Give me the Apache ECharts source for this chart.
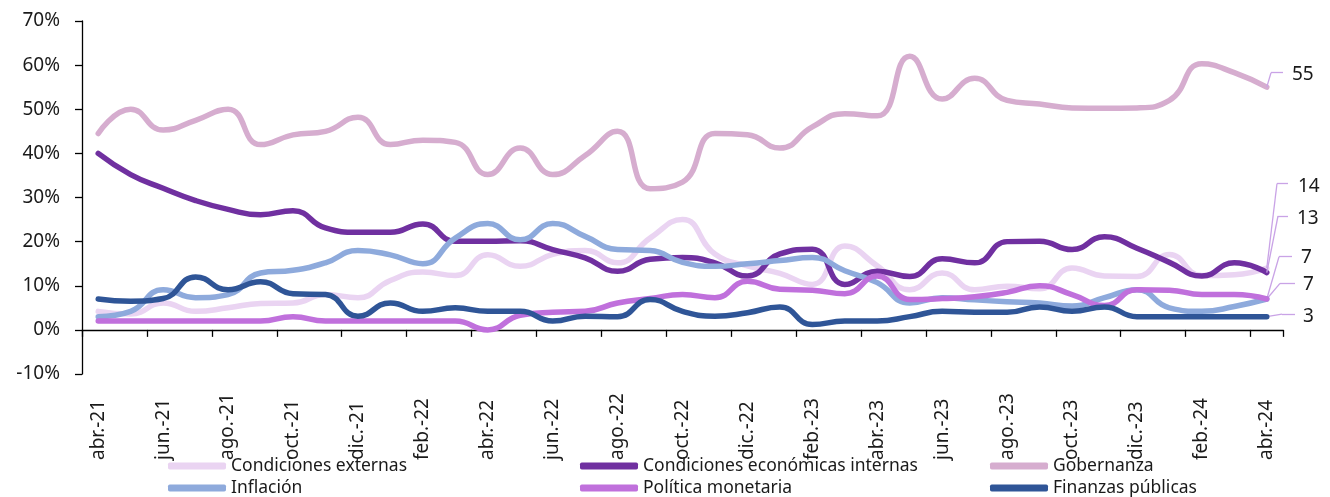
<!DOCTYPE html>
<html>
<head>
<meta charset="utf-8">
<script src="https://cdn.jsdelivr.net/npm/echarts@6/dist/echarts.min.js"></script>
<style>
html,body{margin:0;padding:0;background:#fff;}
#chart{width:1330px;height:497px;}
</style>
</head>
<body>
<div id="chart"></div>
<script>
// ---- data ----
const months = ['abr.-21','may.-21','jun.-21','jul.-21','ago.-21','sep.-21','oct.-21','nov.-21','dic.-21',
  'ene.-22','feb.-22','mar.-22','abr.-22','may.-22','jun.-22','jul.-22','ago.-22','sep.-22','oct.-22','nov.-22','dic.-22',
  'ene.-23','feb.-23','mar.-23','abr.-23','may.-23','jun.-23','jul.-23','ago.-23','sep.-23','oct.-23','nov.-23','dic.-23',
  'ene.-24','feb.-24','mar.-24','abr.-24'];

const seriesNames = ['Condiciones externas','Condiciones económicas internas','Gobernanza','Inflación','Política monetaria','Finanzas públicas'];

const condExternas = [4.2, 3.6, 6.1, 4.2, 5, 6, 6.1, 8, 7.3, 11.2, 13.1, 12.3, 17, 14.4, 17.1, 18, 15.2, 20.8, 25, 17.2, 14.5, 12.8, 10.3, 19, 14.5, 9.1, 12.9, 9.1, 9.9, 9.3, 14, 12.2, 12.1, 17.1, 12.3, 12.5, 14];
const condInternas = [40, 35.2, 32.1, 29.3, 27.3, 26.1, 27, 23.1, 22.1, 22.1, 24, 20.1, 20.1, 20.2, 18.2, 16.3, 13.3, 16, 16.4, 15.2, 12.2, 17.2, 18.3, 10.3, 13.3, 12.1, 16.1, 15.2, 20, 20.1, 18.2, 21.1, 18.5, 15.3, 12.2, 15.2, 13];
const gobernanza = [44.5, 50, 45.3, 47.5, 50, 42, 44.2, 45, 48.2, 42, 43, 42.5, 35.2, 41.2, 35.2, 39.5, 45, 32, 33.5, 44.5, 44.2, 41.2, 46, 49, 48.5, 62, 52.3, 57, 52, 51.2, 50.3, 50.2, 50.3, 52, 60.3, 58.3, 55];
const inflacion = [3, 4.2, 9.1, 7.3, 8, 12.9, 13.5, 15.2, 18, 17, 15, 20.8, 24.1, 20.4, 24.1, 21.2, 18.2, 18, 15.3, 14.4, 15, 15.7, 16.4, 13.4, 10.7, 6.1, 7.3, 6.8, 6.4, 6.1, 5.4, 7.3, 9.1, 5, 4.2, 5.3, 7];
const politica = [2, 2, 2, 2, 2, 2, 3, 2, 2, 2, 2, 2, 0, 3.3, 4, 4.2, 6.1, 7.1, 8, 7.3, 11, 9.2, 9, 8.2, 12.2, 6.9, 7.1, 7.5, 8.5, 10, 8, 5.5, 9.1, 9, 8, 8, 7];
const finanzas = [7, 6.5, 7.1, 12, 9.1, 10.9, 8.2, 8, 3.1, 6.1, 4.2, 5, 4.2, 4.2, 2, 3.1, 3, 6.9, 4.2, 3.1, 3.9, 5.2, 1.2, 2, 2, 3, 4.2, 4, 4, 5.2, 4.2, 5.2, 3, 3, 3, 3, 3];

const seriesValues = [condExternas, condInternas, gobernanza, inflacion, politica, finanzas];

// ---- styles ----
const FONT = '"Noto Sans", "Open Sans", sans-serif';
const colors = ['#ead4f2', '#7030a0', '#d6adcf', '#8eaadc', '#c070dc', '#2f5597'];
const leaderColor = '#c9a3e6';
// end-label placement (text position and leader elbow), in pixels
const endLabelLayout = [
  {textX: 1298, textY: 186.5, elbowX: 1277, lineY: 183.5, endX: 1288},
  {textX: 1297, textY: 218.5, elbowX: 1278, lineY: 216,   endX: 1288},
  {textX: 1292, textY: 75,    elbowX: 1271, lineY: 72.7,  endX: 1283},
  {textX: 1301, textY: 257.5, elbowX: 1279, lineY: 256.7, endX: 1292},
  {textX: 1303, textY: 285,   elbowX: 1280, lineY: 283.3, endX: 1295},
  {textX: 1303, textY: 316.7, elbowX: 1282, lineY: 314.2, endX: 1295}
];

const chart = echarts.init(document.getElementById('chart'), null, {renderer: 'canvas'});

const series = seriesNames.map((name, si) => {
  const vals = seriesValues[si];
  const last = vals.length - 1;
  const L = endLabelLayout[si];
  return {
    type: 'line',
    name: name,
    data: vals.map((v, i) => i === last ? {value: v, label: {show: true}} : v),
    smooth: 0.5,
    clip: false,
    showSymbol: true,
    showAllSymbol: true,
    symbol: 'circle',
    symbolSize: 0,
    color: colors[si],
    lineStyle: {width: 5.5, color: colors[si], cap: 'round'},
    itemStyle: {color: colors[si]},
    label: {
      show: false,
      formatter: p => String(Math.round(p.value)),
      fontSize: 19,
      fontFamily: FONT,
      color: '#1a1a1a'
    },
    labelLayout: function (p) {
      const LL = endLabelLayout[p.seriesIndex];
      return {x: LL.textX, y: LL.textY, align: 'left', verticalAlign: 'middle'};
    },
    markLine: {
      silent: true,
      symbol: 'none',
      animation: false,
      label: {show: false},
      lineStyle: {color: leaderColor, width: 1.3, type: 'solid'},
      emphasis: {disabled: true},
      data: [
        [{coord: [last, vals[last]]}, {x: L.elbowX, y: L.lineY}],
        [{x: L.elbowX, y: L.lineY}, {x: L.endX, y: L.lineY}]
      ]
    },
    emphasis: {disabled: true},
    silent: true,
    z: 2 + si
  };
});

const legendBase = {
  orient: 'vertical',
  top: 457,
  itemWidth: 58,
  itemHeight: 7,
  itemGap: 4,
  icon: 'roundRect',
  selectedMode: false,
  padding: 0,
  textStyle: {fontSize: 17.5, fontFamily: FONT, color: '#1a1a1a'}
};

const option = {
  animation: false,
  backgroundColor: '#ffffff',
  textStyle: {fontFamily: FONT},
  grid: {left: 82, right: 47, top: 21, bottom: 123, containLabel: false},
  legend: [
    Object.assign({}, legendBase, {left: 168, data: [seriesNames[0], seriesNames[3]]}),
    Object.assign({}, legendBase, {left: 580, data: [seriesNames[1], seriesNames[4]]}),
    Object.assign({}, legendBase, {left: 990, data: [seriesNames[2], seriesNames[5]]})
  ],
  xAxis: {
    type: 'category',
    data: months,
    boundaryGap: true,
    axisLine: {show: true, onZero: true, lineStyle: {color: '#000', width: 1.3}},
    axisTick: {show: true, interval: 1, alignWithLabel: false, length: 7, inside: false, lineStyle: {color: '#000', width: 1.3}},
    axisLabel: {
      interval: 1, rotate: 90, align: 'left', verticalAlign: 'middle', margin: 86,
      fontSize: 19, fontFamily: FONT, color: '#1a1a1a'
    },
    splitLine: {show: false}
  },
  yAxis: {
    type: 'value',
    min: -10, max: 70, interval: 10,
    axisLine: {show: true, lineStyle: {color: '#000', width: 1.3}},
    axisTick: {show: true, length: 7, inside: false, lineStyle: {color: '#000', width: 1.3}},
    axisLabel: {formatter: '{value}%', fontSize: 19, fontFamily: FONT, color: '#1a1a1a', margin: 22},
    splitLine: {show: false}
  },
  series: series
};

chart.setOption(option);
</script>
</body>
</html>
